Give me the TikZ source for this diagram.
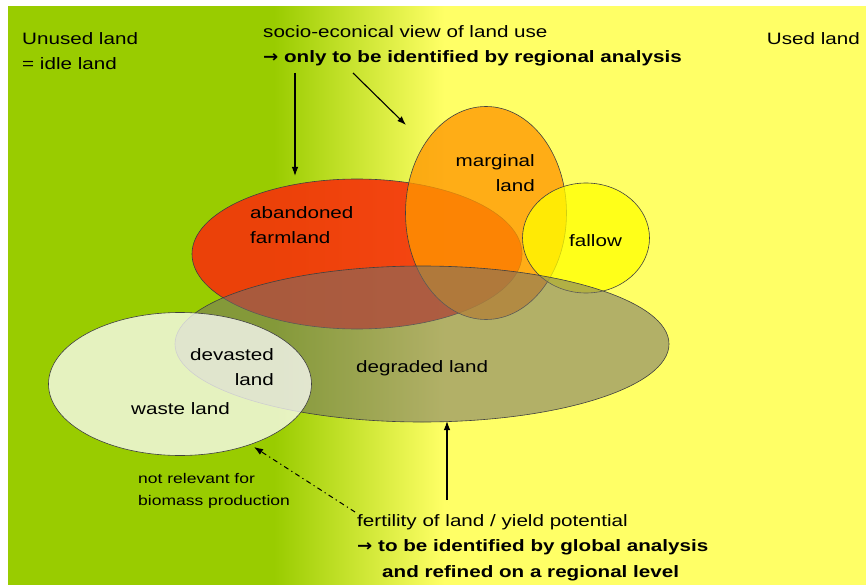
\documentclass[tikz,border=0pt]{standalone}
\usepackage{fontspec}
\setmainfont[FakeStretch=1.25]{Liberation Sans}
\newfontfamily\arrfont[FakeStretch=1.1]{DejaVu Sans}
\usetikzlibrary{shapes.geometric,arrows.meta}
\definecolor{bggreen}{RGB}{153,204,0}
\definecolor{bgyellow}{RGB}{255,255,102}
\definecolor{redland}{RGB}{245,50,10}
\definecolor{orangeland}{RGB}{255,150,0}
\definecolor{fallowc}{RGB}{255,255,0}
\definecolor{greyland}{RGB}{115,112,105}
\pgfdeclarehorizontalshading{bgshade}{100bp}{color(0bp)=(bggreen); color(40.5bp)=(bggreen); color(50.4bp)=(bgyellow); color(100bp)=(bgyellow)}
\tikzset{
  landshape/.style={ellipse, inner sep=0pt, draw=black!75, line width=0.6pt},
  lbl/.style={inner sep=0pt, font=\fontsize{16.5}{25.5}\selectfont, text=black},
  smalllbl/.style={inner sep=0pt, font=\fontsize{14}{22}\selectfont, text=black},
  arr/.style={line width=1.1pt, -{Latex[length=9pt,width=6.5pt]}},
}
\begin{document}
\begin{tikzpicture}[x=1pt,y=-1pt]
\useasboundingbox (0,0) rectangle (866,585);
% background
\fill[white] (0,0) rectangle (866,585);
\shade[shading=bgshade] (8,7) rectangle (866,585);

% land ellipses
\node[landshape, fill=redland, fill opacity=0.9, minimum width=330pt, minimum height=150pt] (abandoned) at (357,254) {};
\node[landshape, fill=orangeland, fill opacity=0.78, minimum width=161pt, minimum height=213pt] (marginal) at (486,213) {};
\node[landshape, fill=fallowc, fill opacity=0.75, minimum width=127pt, minimum height=110pt] (fallow) at (586,238) {};
\node[landshape, fill=greyland, fill opacity=0.55, minimum width=494pt, minimum height=156pt] (degraded) at (422,344) {};
\node[landshape, fill=white, fill opacity=0.75, minimum width=263pt, minimum height=143pt] (waste) at (180,384) {};

% labels
\node[lbl, anchor=north west, align=left] (unused) at (22,32) {Unused land\\= idle land};
\node[lbl, anchor=north east, align=right] (used) at (860,32) {Used land};
\node[lbl, anchor=north west, align=left] (socio) at (263,25) {socio-econical view of land use\\{\arrfont\bfseries →} \textbf{only to be identified by regional analysis}};
\node[lbl, anchor=north east, align=right] (marginaltxt) at (535,154) {marginal\\land};
\node[lbl, anchor=north west, align=left] (abandonedtxt) at (250,206) {abandoned\\farmland};
\node[lbl, anchor=north west] (fallowtxt) at (569,234) {fallow};
\node[lbl, anchor=north east, align=right] (devastedtxt) at (274,348) {devasted\\land};
\node[lbl, anchor=north west] (degradedtxt) at (356,360) {degraded land};
\node[lbl, anchor=north west] (wastetxt) at (131,402) {waste land};
\node[smalllbl, anchor=north west, align=left] (notrel) at (138,473) {not relevant for\\biomass production};
\node[lbl, anchor=north west, align=left] (fert) at (357,514) {fertility of land / yield potential\\{\arrfont\bfseries →} \textbf{to be identified by global analysis}\\\hspace*{25pt}\textbf{and refined on a regional level}};

% connectors
\coordinate (s1) at (295,73);
\coordinate (s2) at (353,73);
\coordinate (e1) at (295,176);
\coordinate (e2) at (406,125);
\coordinate (f1) at (447,500);
\coordinate (f2) at (447,421);
\coordinate (d1) at (355,512);
\coordinate (d2) at (254,447);
\draw[arr] (s1) -- (e1);
\draw[arr] (s2) -- (e2);
\draw[arr] (f1) -- (f2);
\draw[arr, line width=1pt, dash pattern=on 5pt off 3.5pt on 1.2pt off 3.5pt] (d1) -- (d2);
\end{tikzpicture}
\end{document}
